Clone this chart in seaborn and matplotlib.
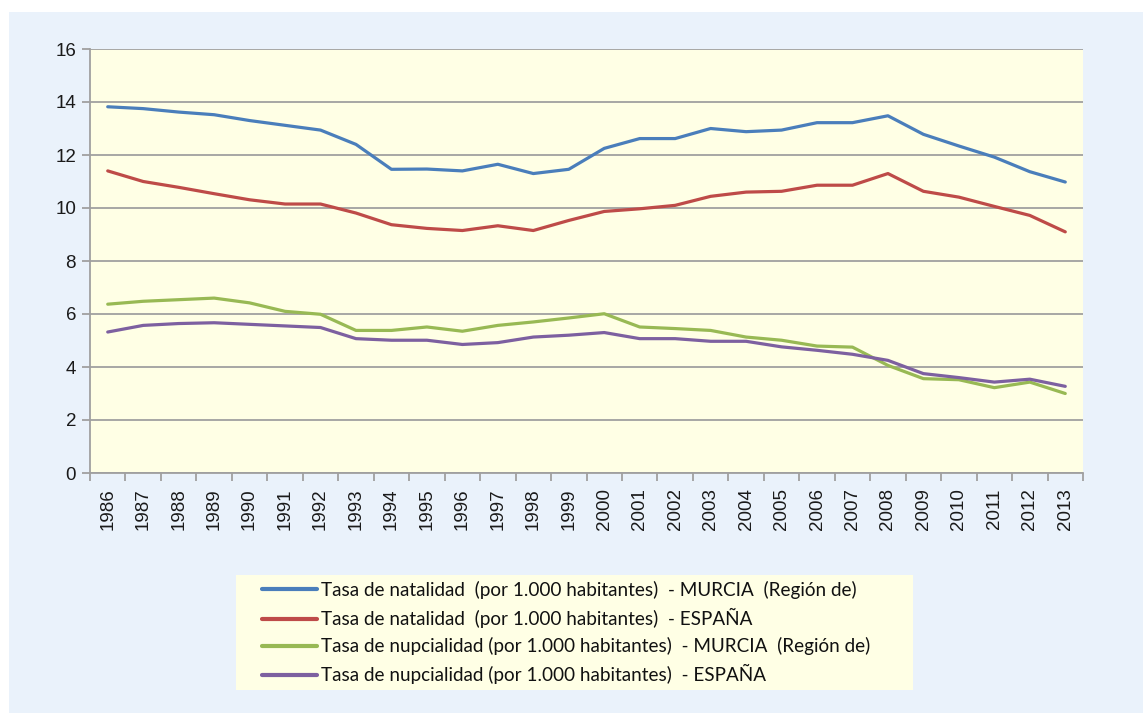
import numpy as np
import pandas as pd
import matplotlib
matplotlib.use("Agg")
import matplotlib.pyplot as plt
import seaborn as sns
from matplotlib.patches import Rectangle

# Datos (tasas por 1.000 habitantes)
years = list(range(1986, 2014))
natalidad_murcia = [13.82, 13.75, 13.62, 13.52, 13.30, 13.12, 12.94, 12.40, 11.46, 11.47,
                    11.40, 11.65, 11.30, 11.46, 12.25, 12.62, 12.62, 13.00, 12.88, 12.94,
                    13.22, 13.22, 13.48, 12.78, 12.34, 11.92, 11.37, 10.98]
natalidad_espana = [11.40, 11.00, 10.78, 10.54, 10.31, 10.15, 10.15, 9.81, 9.37, 9.23,
                    9.15, 9.33, 9.15, 9.53, 9.87, 9.97, 10.10, 10.44, 10.60, 10.63,
                    10.86, 10.86, 11.30, 10.63, 10.41, 10.06, 9.72, 9.10]
nupcialidad_murcia = [6.37, 6.48, 6.54, 6.60, 6.42, 6.10, 5.99, 5.38, 5.38, 5.51,
                      5.35, 5.57, 5.70, 5.85, 6.01, 5.51, 5.45, 5.38, 5.13, 5.01,
                      4.79, 4.75, 4.06, 3.56, 3.52, 3.22, 3.43, 3.00]
nupcialidad_espana = [5.32, 5.57, 5.64, 5.67, 5.61, 5.55, 5.49, 5.07, 5.01, 5.01,
                      4.85, 4.92, 5.13, 5.20, 5.30, 5.07, 5.07, 4.97, 4.97, 4.76,
                      4.63, 4.48, 4.25, 3.75, 3.60, 3.43, 3.54, 3.27]

series_names = [
    "Tasa de natalidad  (por 1.000 habitantes)  - MURCIA  (Región de)",
    "Tasa de natalidad  (por 1.000 habitantes)  - ESPAÑA",
    "Tasa de nupcialidad (por 1.000 habitantes)  - MURCIA  (Región de)",
    "Tasa de nupcialidad (por 1.000 habitantes)  - ESPAÑA",
]
series_values = [natalidad_murcia, natalidad_espana, nupcialidad_murcia, nupcialidad_espana]
colors = ["#4A7EBB", "#BE4B48", "#98B954", "#7D60A0"]

df = pd.concat(
    [pd.DataFrame({"anio": years, "tasa": v, "serie": n}) for n, v in zip(series_names, series_values)],
    ignore_index=True,
)

sns.set_style("white")
plt.rcParams["font.family"] = ["Liberation Sans", "DejaVu Sans"]

W, H = 1143, 713
fig = plt.figure(figsize=(W / 100, H / 100), dpi=100)
fig.patch.set_facecolor("white")
# panel azul claro de fondo
fig.add_artist(Rectangle((9 / W, 0), 1 - 9 / W, 1 - 12 / H, transform=fig.transFigure,
                         facecolor="#EAF2FB", edgecolor="none", zorder=0))
# caja de la leyenda
fig.add_artist(Rectangle((236 / W, 1 - 690 / H), (913 - 236) / W, (690 - 575) / H,
                         transform=fig.transFigure, facecolor="#FFFFE5", edgecolor="none", zorder=1))

ax = fig.add_axes([90 / W, 1 - 473 / H, (1083 - 90) / W, (473 - 49) / H])
ax.set_facecolor("#FFFFE5")

sns.lineplot(data=df, x="anio", y="tasa", hue="serie", hue_order=series_names,
             palette=dict(zip(series_names, colors)), linewidth=2.3, ax=ax)

grid_c = "#A0A0A0"
ax.set_xlim(1985.5, 2013.5)
ax.set_ylim(0, 16)
ax.set_yticks(np.arange(0, 17, 2))
ax.yaxis.grid(True, color=grid_c, linewidth=1.3)
ax.set_axisbelow(True)

ax.set_xticks(years)
ax.set_xticklabels([str(y) for y in years], rotation=90)
ax.set_xticks(np.arange(1985.5, 2014, 1), minor=True)
ax.tick_params(axis="x", which="major", length=0, pad=11, labelsize=13.5, labelcolor="#1a1a1a")
ax.tick_params(axis="x", which="minor", length=6, width=1.3, color=grid_c, direction="out", bottom=True)
ax.tick_params(axis="y", length=6, width=1.3, color=grid_c, direction="out", left=True,
               pad=4, labelsize=13.5, labelcolor="#1a1a1a")

for s in ["top", "right"]:
    ax.spines[s].set_visible(False)
for s in ["left", "bottom"]:
    ax.spines[s].set_color(grid_c)
    ax.spines[s].set_linewidth(1.3)

ax.set_xlabel("")
ax.set_ylabel("")

handles, labels = ax.get_legend_handles_labels()
ax.get_legend().remove()
leg = fig.legend(handles, labels, loc="upper left", bbox_to_anchor=(262 / W, 1 - 581 / H),
                 frameon=False, borderpad=0, borderaxespad=0, handlelength=2.9,
                 handletextpad=0.2, labelspacing=0.48,
                 prop={"family": ["Lato", "DejaVu Sans"], "size": 13.6})
for line in leg.get_lines():
    line.set_linewidth(3)
for t in leg.get_texts():
    t.set_color("#111111")
leg.set_zorder(3)

fig.savefig("out.png", dpi=100, facecolor=fig.get_facecolor())
